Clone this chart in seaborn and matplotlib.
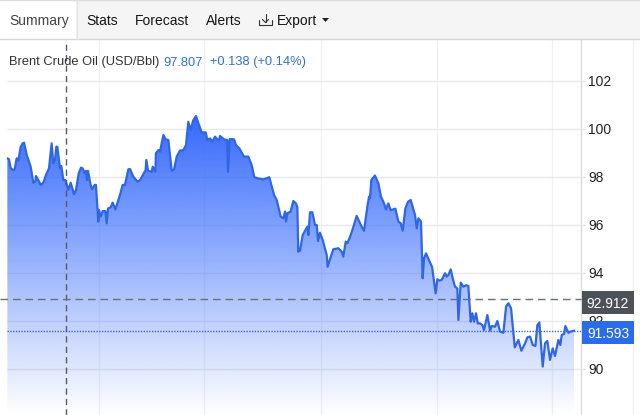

import numpy as np
import pandas as pd
import matplotlib
matplotlib.use("Agg")
import matplotlib.pyplot as plt
from matplotlib.patches import Rectangle, Polygon
import seaborn as sns

sessions = [0.003,0.017,0.032,0.055,0.066,0.083,0.098,0.118,0.135,0.147,0.17,0.204,0.227,0.244,0.25,0.27,0.29,0.313,0.336,0.362,0.385,0.399,0.414,0.425,0.434,0.457,0.468,0.486,0.503,0.529,0.549,0.578,0.595,0.618,0.638,0.652,0.67,0.681,0.69,0.698,0.721,0.733,0.756,0.767,0.787,0.793,0.807,0.825,0.848,0.859,0.871,0.894,0.911,0.934,0.974,0.997,1.017,1.046,1.06,1.089,1.124,1.147,1.195,1.201,1.216,1.247,1.256,1.279,1.284,1.305,1.319,1.348,1.368,1.391,1.42,1.44,1.463,1.491,1.52,1.543,1.563,1.583,1.606,1.629,1.655,1.678,1.713,1.727,1.75,1.77,1.793,1.813,1.828,1.836,1.871,1.899,1.905,1.92,1.957,1.974,2.003,2.043,2.08,2.109,2.132,2.167,2.21,2.261,2.302,2.325,2.359,2.382,2.397,2.405,2.417,2.445,2.468,2.491,2.503,2.511,2.514,2.526,2.549,2.569,2.589,2.598,2.612,2.632,2.655,2.67,2.681,2.698,2.721,2.756,2.764,2.784,2.813,2.856,2.885,2.899,2.92,2.934,2.963,2.991,3.014,3.037,3.057,3.078,3.106,3.121,
 3.129,3.141,3.172,3.201,3.224,3.25,3.267,3.287,3.307,3.33,3.348,3.374,3.394,3.411,3.434,3.457,3.48,3.517,3.532,3.546,3.569,3.583,3.595,3.612,3.647,3.664,3.695,3.71,3.727,3.747,3.761,3.776,3.79,3.805,3.825,3.842,3.862,3.882,3.891,3.911,3.934,3.957,3.977,3.997,4.011,4.026,4.043,4.058,4.078,4.098,4.112,4.141,4.164,4.178,4.207,4.227,4.25,4.279,4.302,4.322,4.345,4.377,4.408,4.434,4.466,4.486,4.509,4.532,4.555,4.572,4.589,4.618,4.638,4.658,4.681,4.704,4.724,4.753,4.77,4.782,4.802,4.813,4.839,4.859,4.888]
prices = [98.78,98.74,98.36,98.29,98.32,98.78,98.68,99.26,99.4,99.43,98.92,98.43,97.76,97.81,98.04,97.87,97.67,97.76,98.08,98.36,99.4,98.57,98.71,99.26,99.26,98.36,98.46,97.87,97.87,97.46,97.76,97.28,97.46,98.15,98.39,98.36,98.15,98.25,97.87,98.26,97.67,97.49,97.67,97.67,96.14,96.63,96.35,96.58,96.58,96.07,96.69,96.74,96.93,96.65,97.25,97.67,97.67,98.32,98.33,98.01,97.81,97.87,98.29,98.71,98.26,98.21,98.43,98.22,98.99,99.12,99.06,99.75,99.57,99.54,98.26,98.32,98.85,99.1,99.12,99.33,100.3,99.96,100.37,100.54,100.17,99.86,99.86,99.54,99.61,99.47,99.68,99.57,99.51,
 99.71,99.57,99.54,98.22,99.58,99.57,99.33,99.19,98.85,98.85,98.5,97.99,97.94,97.9,97.99,97.25,97.04,96.35,96.28,96.56,96.14,96.49,96.56,97.0,96.9,96.74,94.89,94.93,94.93,95.58,95.76,95.93,95.58,96.53,96.53,96.0,96.0,95.33,95.68,95.38,94.75,94.26,94.57,94.99,95.03,94.89,94.68,95.31,95.24,95.58,96.0,96.38,96.14,95.93,95.76,96.76,97.18,97.11,97.88,98.06,97.74,97.18,96.9,96.65,96.9,96.62,96.65,96.68,96.14,96.07,95.76,96.69,96.97,97.04,96.42,95.86,96.28,96.14,93.78,94.61,94.82,94.43,94.26,93.15,93.74,93.68,93.71,93.85,93.99,93.85,93.92,94.15,93.78,93.43,93.36,92.04,93.6,93.43,93.49,93.46,91.97,92.32,91.97,92.32,91.9,91.9,91.83,91.62,92.25,91.6,91.79,91.76,92.0,91.56,91.51,92.6,92.74,92.53,90.9,91.21,90.76,91.07,91.32,91.35,91.0,90.96,91.83,91.94,90.1,91.07,91.17,90.38,90.86,90.54,91.21,91.0,91.42,91.46,91.79,91.51,91.56,91.6]
price_ticks = [90, 92, 94, 96, 98, 100, 102]
session_ticks = [0.793, 1.698, 2.707, 3.707, 4.698]
crosshair_session = 0.509
crosshair_price = 92.912
last_price = 91.593

menu_items = [("Stats", 86), ("Forecast", 135), ("Alerts", 206)]

sns.set_theme(style="white")
plt.rcParams["font.family"] = ["Liberation Sans", "DejaVu Sans"]

W, H = 640, 415
XMAX = 4.948
YMIN, YMAX = 88.083, 103.708
fig = plt.figure(figsize=(W / 100, H / 100), dpi=100, facecolor="white")

# Price panel, spanning from just under the toolbar to the bottom edge
ax = fig.add_axes([7 / W, 0, 574 / W, 375 / H])
ax.set_xlim(0, XMAX)
ax.set_ylim(YMIN, YMAX)
ax.set_yticks(price_ticks)
ax.set_xticks(session_ticks)
ax.grid(True, axis="y", color="#eaeaee", lw=1)
ax.grid(True, axis="x", color="#f0f1f4", lw=1)
ax.set_axisbelow(True)
ax.tick_params(left=False, bottom=False, labelbottom=False, labelleft=False)
for side in ["top", "left", "bottom"]:
    ax.spines[side].set_visible(False)
ax.spines["right"].set_color("#dcdcdc")
ax.spines["right"].set_linewidth(1)

frame = pd.DataFrame({"session": sessions, "price": prices})

# Area under the price line: one blue whose opacity falls to zero at the bottom,
# so the grid stays faintly visible through it
area = ax.fill_between(frame["session"], frame["price"], YMIN, color="none", lw=0)
rgba = np.ones((256, 1, 4))
rgba[..., 0], rgba[..., 1], rgba[..., 2] = 47 / 255, 101 / 255, 251 / 255
rgba[:, 0, 3] = np.linspace(0.98, 0.0, 256)
img = ax.imshow(rgba, aspect="auto", extent=(0, XMAX, YMIN, 100.6), zorder=2)
img.set_clip_path(area.get_paths()[0], transform=ax.transData)
ax.set_xlim(0, XMAX)
ax.set_ylim(YMIN, YMAX)

sns.lineplot(data=frame, x="session", y="price", ax=ax, color="#2f66e6", lw=1.6,
             zorder=3, errorbar=None, estimator=None, sort=False)
ax.set_xlabel("")
ax.set_ylabel("")

# Reference levels and crosshair
ax.axhline(last_price, color="#3a68d8", lw=1, ls=(0, (1, 1)), zorder=4)
ax.axvline(crosshair_session, color="#555a66", lw=1, ls=(0, (4.5, 3)), zorder=5)
ax.plot([-7 / 574 * XMAX, XMAX], [crosshair_price] * 2, color="#6b6f76", lw=1,
        ls=(0, (5.5, 3.5)), zorder=5, clip_on=False)

# Toolbar, legend line, axis labels and value badges use pixel coordinates
ui = fig.add_axes([0, 0, 1, 1], zorder=10)
ui.set_xlim(0, W)
ui.set_ylim(H, 0)
ui.axis("off")
ui.patch.set_alpha(0)
ui.add_patch(Rectangle((0, 0), W, 39.5, fc="#f5f5f5", ec="none"))
ui.add_patch(Rectangle((0, 1), 76, 38.5, fc="white", ec="none"))
ui.plot([0, W], [0.5, 0.5], color="#dddddd", lw=1)
ui.plot([0, W], [39.5, 39.5], color="#d6d6d6", lw=1)
ui.plot([76.5, 76.5], [1, 39], color="#e4e4e4", lw=1)
ui.plot([632.5, 632.5], [40, H], color="#f0f0f0", lw=1)

ui.text(9, 25, "Summary", fontsize=10, color="#444444", va="baseline")
for label, x in menu_items:
    ui.text(x, 25, label, fontsize=10, color="#151515", va="baseline")
ui.text(277, 25, "Export", fontsize=10, color="#151515", va="baseline")
ui.plot([259, 259, 272, 272], [20, 25, 25, 20], color="#333333", lw=0.8)
ui.plot([265.5, 265.5], [14, 22], color="#333333", lw=0.8)
ui.plot([262.5, 265.5, 268.5], [19.5, 22.5, 19.5], color="#333333", lw=0.8)
ui.add_patch(Polygon([[322, 18], [329, 18], [325.5, 22]], fc="#222222", ec="none"))

ui.text(9, 65.5, "Brent Crude Oil (USD/Bbl)", fontsize=9.3, color="#333333", va="baseline")
ui.text(163, 65.5, "97.807", fontsize=9.3, color="#2f6fd8", va="baseline")
ui.text(210, 65.5, "+0.138 (+0.14%)", fontsize=9.3, color="#2f6fd8", va="baseline")

to_px = lambda v: 369 - (v - 90) * 24
for p in price_ticks:
    ui.plot([581, 585], [to_px(p)] * 2, color="#e6e6e6", lw=1)
    if p != 92:
        ui.text(588, to_px(p) + 1, str(p), fontsize=10, color="#222222", va="center", ha="left")

# The 92 label sits between the two badges, which cover most of it
ui.text(588, to_px(92) + 1, "92", fontsize=10, color="#222222", va="center", ha="left", zorder=1)
ui.add_patch(Rectangle((582, 291), 52, 23, fc="#4d5158", ec="none", zorder=2))
ui.text(608, 303.5, f"{crosshair_price:.3f}", fontsize=10, color="white", ha="center", va="center", zorder=3)
ui.add_patch(Rectangle((582, 321), 52, 23, fc="#2a6de8", ec="none", zorder=2))
ui.text(608, 333.5, f"{last_price:.3f}", fontsize=10, color="white", ha="center", va="center", zorder=3)

fig.savefig("out.png", dpi=100)
